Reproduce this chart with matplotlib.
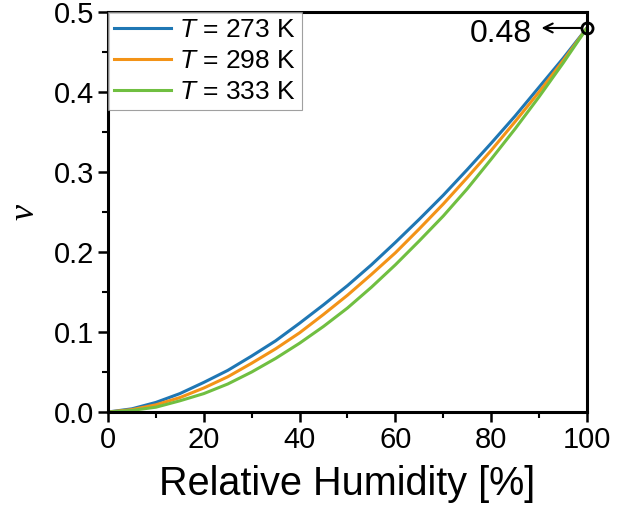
import matplotlib
matplotlib.use("Agg")
import matplotlib.pyplot as plt
from matplotlib.ticker import MultipleLocator, FormatStrFormatter

plt.rcParams['font.family'] = ['Liberation Sans', 'DejaVu Sans']
plt.rcParams['mathtext.fontset'] = 'custom'
plt.rcParams['mathtext.it'] = 'Liberation Sans:italic'
plt.rcParams['mathtext.rm'] = 'Liberation Sans'

rh = [0, 5, 10, 15, 20, 25, 30, 35, 40, 45, 50, 55, 60, 65, 70, 75, 80, 85, 90, 95, 100]
nu_273 = [0, 0.004, 0.012, 0.023, 0.037, 0.052, 0.070, 0.089, 0.111, 0.134, 0.158,
          0.184, 0.212, 0.241, 0.271, 0.303, 0.336, 0.370, 0.406, 0.442, 0.48]
nu_298 = [0, 0.003, 0.009, 0.018, 0.030, 0.044, 0.061, 0.079, 0.099, 0.122, 0.146,
          0.172, 0.199, 0.229, 0.260, 0.293, 0.327, 0.363, 0.400, 0.439, 0.48]
nu_333 = [0, 0.002, 0.006, 0.014, 0.023, 0.035, 0.050, 0.067, 0.086, 0.107, 0.130,
          0.156, 0.184, 0.214, 0.245, 0.279, 0.316, 0.354, 0.394, 0.436, 0.48]
labels = ['$T$ = 273 K', '$T$ = 298 K', '$T$ = 333 K']
colors = ['#1f77b4', '#f39317', '#70bf41']
point_x, point_y = 100, 0.48
point_label = '0.48'

fig = plt.figure(figsize=(6.29, 5.12), dpi=100)
ax = fig.add_axes([0.1717, 0.1953, 0.7615, 0.7813])

for ys, lab, c in zip([nu_273, nu_298, nu_333], labels, colors):
    ax.plot(rh, ys, color=c, lw=2.2, label=lab, zorder=2, solid_joinstyle='round')

ax.plot([point_x], [point_y], marker='o', ms=8, mfc='none', mec='black', mew=2,
        clip_on=False, zorder=4)
ax.annotate('', xy=(90.5, point_y), xytext=(point_x - 1.3, point_y),
            arrowprops=dict(arrowstyle='->', color='black', lw=1.5,
                            shrinkA=0, shrinkB=0, mutation_scale=16))
ax.text(88.5, 0.472, point_label, fontsize=23, ha='right', va='center')

ax.set_xlim(0, 100)
ax.set_ylim(0, 0.5)
ax.xaxis.set_major_locator(MultipleLocator(20))
ax.xaxis.set_minor_locator(MultipleLocator(10))
ax.yaxis.set_major_locator(MultipleLocator(0.1))
ax.yaxis.set_minor_locator(MultipleLocator(0.05))
ax.xaxis.set_major_formatter(FormatStrFormatter('%d'))
ax.yaxis.set_major_formatter(FormatStrFormatter('%.1f'))
ax.tick_params(which='major', direction='out', length=7, width=1.8, labelsize=21, pad=3)
ax.tick_params(which='minor', direction='out', length=4, width=1.5)
for s in ax.spines.values():
    s.set_linewidth(2.2)

ax.set_xlabel('Relative Humidity [%]', fontsize=28.5, labelpad=8)
ax.set_ylabel('ν', fontsize=26, family='Liberation Serif', style='italic', labelpad=9)

leg = ax.legend(loc='upper left', fontsize=19, frameon=True, fancybox=False,
                borderaxespad=0.0, handlelength=2.15, handletextpad=0.32,
                labelspacing=0.27, borderpad=0.22)
leg.get_frame().set_edgecolor('#888888')
leg.get_frame().set_linewidth(0.8)

fig.savefig('out.png', dpi=100)
